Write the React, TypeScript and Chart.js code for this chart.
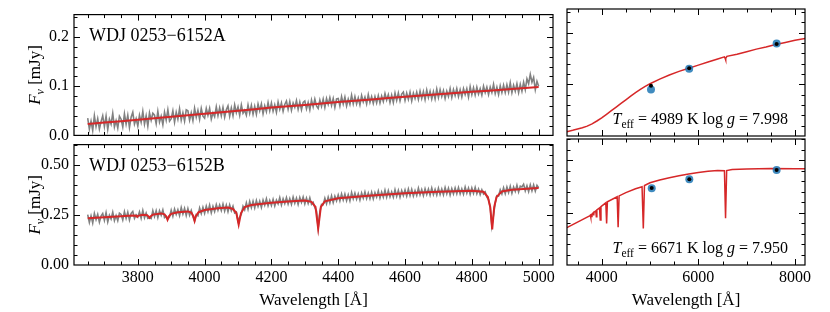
import React, { useEffect, useRef } from 'react';
import { Chart, registerables } from 'chart.js';

Chart.register(...registerables);

const FONT = '"Liberation Serif", "DejaVu Serif", serif';
const GRAY = '#808080';
const RED = '#d62728';
const BLUE = 'rgba(31,119,180,0.85)';

// ---- observed spectra: sampling grid (Å) and fluxes (mJy) ----
const SPEC_START = 3650;
const SPEC_STEP = 5;

const SPEC_A_FLUX = [
  0.035, 0.013, 0.029, 0.010, 0.040, 0.018, 0.034, 0.013, 0.028, 0.040,
  0.018, 0.039, 0.012, 0.033, 0.023, 0.045, 0.017, 0.030, 0.015, 0.039,
  0.033, 0.017, 0.044, 0.023, 0.041, 0.016, 0.037, 0.047, 0.023, 0.034,
  0.019, 0.041, 0.027, 0.049, 0.023, 0.040, 0.019, 0.046, 0.031, 0.045,
  0.041, 0.024, 0.049, 0.027, 0.039, 0.022, 0.047, 0.031, 0.052, 0.029,
  0.034, 0.050, 0.027, 0.047, 0.033, 0.054, 0.031, 0.046, 0.029, 0.052,
  0.050, 0.031, 0.046, 0.030, 0.055, 0.037, 0.051, 0.033, 0.055, 0.039,
  0.035, 0.055, 0.041, 0.055, 0.033, 0.046, 0.038, 0.058, 0.040, 0.056,
  0.040, 0.057, 0.037, 0.052, 0.060, 0.039, 0.056, 0.040, 0.062, 0.046,
  0.058, 0.041, 0.062, 0.045, 0.051, 0.041, 0.062, 0.045, 0.061, 0.043,
  0.059, 0.043, 0.064, 0.050, 0.064, 0.044, 0.060, 0.048, 0.067, 0.050,
  0.066, 0.049, 0.062, 0.047, 0.068, 0.053, 0.066, 0.049, 0.063, 0.070,
  0.053, 0.069, 0.051, 0.066, 0.057, 0.071, 0.053, 0.068, 0.052, 0.067,
  0.070, 0.054, 0.067, 0.052, 0.072, 0.058, 0.074, 0.060, 0.055, 0.072,
  0.059, 0.074, 0.057, 0.075, 0.063, 0.077, 0.061, 0.075, 0.057, 0.074,
  0.075, 0.060, 0.079, 0.064, 0.078, 0.060, 0.074, 0.063, 0.082, 0.064,
  0.079, 0.064, 0.076, 0.062, 0.081, 0.068, 0.078, 0.064, 0.083, 0.067,
  0.079, 0.065, 0.079, 0.066, 0.081, 0.066, 0.080, 0.069, 0.085, 0.072,
  0.083, 0.067, 0.082, 0.067, 0.086, 0.071, 0.086, 0.070, 0.084, 0.088,
  0.071, 0.086, 0.073, 0.088, 0.070, 0.086, 0.075, 0.088, 0.073, 0.090,
  0.075, 0.089, 0.073, 0.092, 0.077, 0.090, 0.074, 0.089, 0.074, 0.094,
  0.077, 0.093, 0.079, 0.091, 0.075, 0.090, 0.079, 0.095, 0.077, 0.093,
  0.081, 0.095, 0.079, 0.093, 0.078, 0.095, 0.083, 0.095, 0.078, 0.099,
  0.083, 0.097, 0.082, 0.098, 0.084, 0.095, 0.082, 0.100, 0.087, 0.098,
  0.083, 0.098, 0.087, 0.104, 0.085, 0.098, 0.083, 0.101, 0.087, 0.102,
  0.087, 0.103, 0.088, 0.107, 0.087, 0.102, 0.090, 0.105, 0.087, 0.104,
  0.090, 0.108, 0.093, 0.115, 0.105, 0.124, 0.108, 0.118, 0.093, 0.110,
  0.100,
];

const SPEC_B_FLUX = [
  0.252, 0.213, 0.246, 0.210, 0.258, 0.227, 0.253, 0.214, 0.245, 0.258,
  0.223, 0.262, 0.215, 0.249, 0.230, 0.264, 0.222, 0.247, 0.221, 0.259,
  0.253, 0.225, 0.267, 0.233, 0.264, 0.225, 0.258, 0.268, 0.233, 0.251,
  0.240, 0.266, 0.234, 0.273, 0.236, 0.260, 0.233, 0.236, 0.232, 0.272,
  0.242, 0.272, 0.237, 0.271, 0.249, 0.276, 0.237, 0.243, 0.230, 0.240,
  0.274, 0.244, 0.280, 0.253, 0.277, 0.247, 0.287, 0.255, 0.283, 0.247,
  0.282, 0.249, 0.273, 0.243, 0.220, 0.252, 0.246, 0.285, 0.257, 0.289,
  0.259, 0.294, 0.266, 0.300, 0.261, 0.293, 0.267, 0.302, 0.274, 0.300,
  0.272, 0.305, 0.270, 0.300, 0.267, 0.301, 0.272, 0.294, 0.260, 0.265,
  0.220, 0.240, 0.254, 0.294, 0.276, 0.311, 0.279, 0.318, 0.287, 0.319,
  0.286, 0.323, 0.293, 0.319, 0.288, 0.325, 0.299, 0.331, 0.296, 0.323,
  0.298, 0.328, 0.295, 0.325, 0.306, 0.337, 0.300, 0.331, 0.307, 0.337,
  0.305, 0.332, 0.303, 0.340, 0.309, 0.335, 0.303, 0.338, 0.313, 0.340,
  0.306, 0.335, 0.308, 0.336, 0.303, 0.313, 0.288, 0.270, 0.185, 0.265,
  0.303, 0.302, 0.334, 0.306, 0.340, 0.311, 0.346, 0.312, 0.344, 0.321,
  0.350, 0.321, 0.355, 0.325, 0.355, 0.322, 0.351, 0.321, 0.362, 0.331,
  0.359, 0.329, 0.356, 0.325, 0.360, 0.334, 0.365, 0.332, 0.360, 0.331,
  0.364, 0.331, 0.362, 0.339, 0.370, 0.335, 0.365, 0.339, 0.374, 0.339,
  0.372, 0.340, 0.366, 0.339, 0.376, 0.343, 0.373, 0.339, 0.372, 0.347,
  0.375, 0.345, 0.380, 0.347, 0.378, 0.345, 0.372, 0.348, 0.384, 0.351,
  0.377, 0.347, 0.381, 0.353, 0.380, 0.350, 0.385, 0.352, 0.378, 0.350,
  0.384, 0.352, 0.380, 0.351, 0.387, 0.356, 0.384, 0.350, 0.382, 0.355,
  0.385, 0.356, 0.387, 0.355, 0.381, 0.354, 0.390, 0.359, 0.385, 0.353,
  0.385, 0.358, 0.388, 0.356, 0.380, 0.352, 0.376, 0.355, 0.365, 0.339,
  0.327, 0.290, 0.195, 0.250, 0.311, 0.347, 0.345, 0.376, 0.355, 0.386,
  0.357, 0.390, 0.362, 0.394, 0.359, 0.390, 0.368, 0.399, 0.365, 0.394,
  0.390, 0.404, 0.371, 0.396, 0.367, 0.401, 0.371, 0.400, 0.370, 0.398,
  0.386,
];

// ---- model spectra in the spectroscopic range ----
const MODEL_A_WAVE = [3650, 3700, 3750, 3800, 3850, 3900, 3950, 4000, 4050, 4100, 4150, 4200, 4250, 4300, 4350, 4400, 4450, 4500, 4550, 4600, 4650, 4700, 4750, 4800, 4850, 4900, 4950, 5000];
const MODEL_A_FLUX = [0.023, 0.026, 0.029, 0.032, 0.035, 0.038, 0.041, 0.044, 0.047, 0.050, 0.053, 0.0565, 0.0595, 0.062, 0.065, 0.068, 0.0705, 0.073, 0.076, 0.0785, 0.081, 0.0835, 0.086, 0.0885, 0.091, 0.0935, 0.096, 0.0985];

const MODEL_B_WAVE = [3650, 3700, 3750, 3785, 3795, 3798, 3801, 3815, 3828, 3832, 3835, 3838, 3845, 3870, 3880, 3885, 3889, 3893, 3900, 3920, 3950, 3960, 3966, 3970, 3974, 3982, 4000, 4040, 4070, 4085, 4095, 4102, 4109, 4120, 4140, 4200, 4260, 4300, 4320, 4332, 4340, 4348, 4360, 4400, 4500, 4600, 4700, 4800, 4835, 4848, 4855, 4861, 4867, 4874, 4890, 4920, 5000];
const MODEL_B_FLUX = [0.234, 0.239, 0.244, 0.248, 0.246, 0.241, 0.246, 0.251, 0.249, 0.243, 0.236, 0.243, 0.252, 0.258, 0.253, 0.243, 0.226, 0.243, 0.256, 0.264, 0.268, 0.262, 0.245, 0.220, 0.245, 0.264, 0.275, 0.284, 0.287, 0.280, 0.260, 0.202, 0.260, 0.290, 0.300, 0.311, 0.319, 0.322, 0.316, 0.290, 0.182, 0.290, 0.318, 0.334, 0.348, 0.359, 0.366, 0.371, 0.366, 0.340, 0.290, 0.178, 0.290, 0.340, 0.368, 0.376, 0.385];

// ---- model SEDs (broad range) ----
const SED_A_WAVE = [3200, 3300, 3400, 3500, 3600, 3700, 3800, 3900, 4000, 4100, 4200, 4300, 4400, 4500, 4600, 4700, 4800, 4900, 5000, 5200, 5400, 5600, 5800, 6000, 6200, 6400, 6540, 6556, 6563, 6570, 6590, 6800, 7000, 7200, 7400, 7600, 7800, 8000, 8300];
const SED_A_FLUX = [0.0068, 0.0088, 0.011, 0.0135, 0.0158, 0.019, 0.0235, 0.029, 0.035, 0.042, 0.049, 0.056, 0.063, 0.070, 0.077, 0.084, 0.090, 0.096, 0.101, 0.110, 0.118, 0.125, 0.131, 0.137, 0.143, 0.149, 0.153, 0.150, 0.147, 0.150, 0.154, 0.158, 0.163, 0.168, 0.172, 0.177, 0.181, 0.185, 0.190];

const SED_B_WAVE = [3200, 3300, 3400, 3500, 3600, 3700, 3750, 3765, 3771, 3777, 3792, 3798, 3804, 3828, 3835, 3842, 3878, 3889, 3900, 3955, 3970, 3985, 4085, 4102, 4118, 4320, 4340, 4360, 4500, 4700, 4835, 4861, 4885, 5000, 5200, 5400, 5600, 5800, 6000, 6200, 6400, 6540, 6563, 6586, 6700, 7000, 7500, 8000, 8300];
const SED_B_FLUX = [0.170, 0.181, 0.193, 0.205, 0.217, 0.229, 0.235, 0.238, 0.228, 0.239, 0.242, 0.229, 0.244, 0.250, 0.237, 0.252, 0.258, 0.231, 0.263, 0.273, 0.215, 0.279, 0.297, 0.199, 0.302, 0.326, 0.180, 0.330, 0.346, 0.364, 0.374, 0.175, 0.380, 0.393, 0.406, 0.417, 0.426, 0.435, 0.442, 0.448, 0.452, 0.450, 0.223, 0.451, 0.456, 0.459, 0.461, 0.460, 0.459];

// ---- photometry ----
const PHOT_A_WAVE = [5020, 5810, 7620];
const PHOT_A_OBS = [0.090, 0.130, 0.179];
const PHOT_A_SYN = [0.097, 0.131, 0.178];
const PHOT_B_WAVE = [5035, 5813, 7620];
const PHOT_B_OBS = [0.367, 0.410, 0.454];
const PHOT_B_SYN = [0.368, 0.410, 0.454];

// ---- labels / ticks ----
const NAME_A = 'WDJ 0253\u22126152A';
const NAME_B = 'WDJ 0253\u22126152B';
const TEFF_A = '4989';
const LOGG_A = '7.998';
const TEFF_B = '6671';
const LOGG_B = '7.950';
const X_TITLE = 'Wavelength [\u00c5]';

const Y_TICKS_A = [0, 0.1, 0.2];
const Y_LABELS_A = ['0.0', '0.1', '0.2'];
const Y_TICKS_B = [0, 0.25, 0.5];
const Y_LABELS_B = ['0.00', '0.25', '0.50'];
const X_TICKS_SPEC = [3800, 4000, 4200, 4400, 4600, 4800, 5000];
const X_TICKS_SED = [4000, 6000, 8000];

const pts = (xs: number[], ys: number[]) => xs.map((x, i) => ({ x, y: ys[i] }));
const gridPts = (ys: number[]) => ys.map((y, i) => ({ x: SPEC_START + i * SPEC_STEP, y }));

type Piece = { t: string; font: string; dy?: number };

function drawPieces(ctx: CanvasRenderingContext2D, pieces: Piece[], x: number, y: number, align: 'left' | 'right' | 'center') {
  let total = 0;
  const widths = pieces.map((p) => {
    ctx.font = p.font;
    const w = ctx.measureText(p.t).width;
    total += w;
    return w;
  });
  let cx = align === 'left' ? x : align === 'right' ? x - total : x - total / 2;
  ctx.textAlign = 'left';
  ctx.textBaseline = 'alphabetic';
  pieces.forEach((p, i) => {
    ctx.font = p.font;
    ctx.fillText(p.t, cx, y + (p.dy || 0));
    cx += widths[i];
  });
}

const framePlugin = {
  id: 'frameTicks',
  afterDraw(chart: any, _args: any, o: any) {
    const { ctx, chartArea: a, scales } = chart;
    const xs = scales.x;
    const ys = scales.y;
    ctx.save();
    ctx.strokeStyle = '#000';
    ctx.fillStyle = '#000';
    ctx.lineWidth = 1;
    ctx.beginPath();
    const isMajor = (v: number, majors: number[]) => majors.some((m) => Math.abs(m - v) < 1e-9);
    const drawX = (v: number, len: number) => {
      const p = Math.round(xs.getPixelForValue(v)) + 0.5;
      ctx.moveTo(p, a.bottom);
      ctx.lineTo(p, a.bottom - len);
      ctx.moveTo(p, a.top);
      ctx.lineTo(p, a.top + len);
    };
    const drawY = (v: number, len: number) => {
      const p = Math.round(ys.getPixelForValue(v)) + 0.5;
      ctx.moveTo(a.left, p);
      ctx.lineTo(a.left + len, p);
      ctx.moveTo(a.right, p);
      ctx.lineTo(a.right - len, p);
    };
    for (let k = Math.ceil(xs.min / o.xMinor - 1e-9); k * o.xMinor <= xs.max + 1e-9; k++) {
      const v = k * o.xMinor;
      drawX(v, isMajor(v, o.xMajor) ? 6 : 3.5);
    }
    for (let k = Math.ceil(ys.min / o.yMinor - 1e-9); k * o.yMinor <= ys.max + 1e-9; k++) {
      const v = k * o.yMinor;
      if (v <= ys.min + 1e-9) continue;
      drawY(v, isMajor(v, o.yMajor) ? 6 : 3.5);
    }
    ctx.stroke();
    ctx.lineWidth = 1.2;
    ctx.strokeRect(a.left, a.top, a.right - a.left, a.bottom - a.top);

    if (o.name) {
      ctx.font = `18px ${FONT}`;
      ctx.textAlign = 'left';
      ctx.textBaseline = 'alphabetic';
      ctx.fillText(o.name, a.left + 15, a.top + 26);
    }
    if (o.teff) {
      drawPieces(
        ctx,
        [
          { t: 'T', font: `italic 16px ${FONT}` },
          { t: 'eff', font: `11.5px ${FONT}`, dy: 3.5 },
          { t: ` = ${o.teff} K log `, font: `16px ${FONT}` },
          { t: 'g', font: `italic 16px ${FONT}` },
          { t: ` = ${o.logg}`, font: `16px ${FONT}` },
        ],
        a.right - 17,
        a.bottom - 12,
        'right'
      );
    }
    if (o.yTitle) {
      ctx.translate(35, (a.top + a.bottom) / 2);
      ctx.rotate(-Math.PI / 2);
      drawPieces(
        ctx,
        [
          { t: 'F', font: `italic 17px ${FONT}` },
          { t: '\u03bd', font: `italic 12px ${FONT}`, dy: 3.5 },
          { t: ' [mJy]', font: `17px ${FONT}` },
        ],
        0,
        5,
        'center'
      );
    }
    ctx.restore();
  },
};

type PanelSpec = {
  left: number;
  top: number;
  width: number;
  height: number;
  padding: { top: number; right: number; bottom: number; left: number };
  datasets: any[];
  xMin: number;
  xMax: number;
  yMin: number;
  yMax: number;
  xTicks: number[];
  xMinor: number;
  yTicks: number[];
  yLabels: string[];
  yMinor: number;
  showX: boolean;
  showY: boolean;
  name?: string;
  teff?: string;
  logg?: string;
};

function makeConfig(p: PanelSpec): any {
  return {
    type: 'line',
    data: { datasets: p.datasets },
    options: {
      responsive: false,
      devicePixelRatio: 1,
      animation: false,
      events: [],
      layout: { padding: p.padding },
      plugins: {
        legend: { display: false },
        tooltip: { enabled: false },
        frameTicks: {
          xMinor: p.xMinor,
          xMajor: p.xTicks,
          yMinor: p.yMinor,
          yMajor: p.yTicks,
          name: p.name,
          teff: p.teff,
          logg: p.logg,
          yTitle: p.showY,
        },
      },
      scales: {
        x: {
          type: 'linear',
          min: p.xMin,
          max: p.xMax,
          display: p.showX,
          grid: { display: false, drawTicks: false },
          border: { display: false },
          afterBuildTicks: (s: any) => {
            s.ticks = p.xTicks.map((v) => ({ value: v }));
          },
          afterFit: (s: any) => {
            s.height = p.showX ? 47 : 0;
          },
          ticks: {
            autoSkip: false,
            maxRotation: 0,
            padding: 3,
            color: '#000',
            font: { family: FONT, size: 16 },
            callback: (v: any) => String(v),
          },
          title: {
            display: true,
            text: X_TITLE,
            color: '#000',
            font: { family: FONT, size: 17 },
            padding: { top: 0, bottom: 1 },
          },
        },
        y: {
          type: 'linear',
          min: p.yMin,
          max: p.yMax,
          display: p.showY,
          grid: { display: false, drawTicks: false },
          border: { display: false },
          afterBuildTicks: (s: any) => {
            s.ticks = p.yTicks.map((v) => ({ value: v }));
          },
          afterFit: (s: any) => {
            s.width = p.showY ? 74 : 0;
          },
          ticks: {
            autoSkip: false,
            padding: 5,
            color: '#000',
            font: { family: FONT, size: 16 },
            callback: (v: any) => {
              const i = p.yTicks.findIndex((t) => Math.abs(t - v) < 1e-9);
              return i >= 0 ? p.yLabels[i] : '';
            },
          },
        },
      },
    },
    plugins: [framePlugin],
  };
}

function Panel({ spec }: { spec: PanelSpec }) {
  const ref = useRef<HTMLCanvasElement>(null);
  useEffect(() => {
    const chart = new Chart(ref.current as HTMLCanvasElement, makeConfig(spec));
    return () => chart.destroy();
  }, []);
  return (
    <div style={{ position: 'absolute', left: spec.left, top: spec.top, width: spec.width, height: spec.height }}>
      <canvas ref={ref} width={spec.width} height={spec.height} style={{ display: 'block', width: spec.width, height: spec.height }} />
    </div>
  );
}

const lineDs = (data: any[], color: string, width: number) => ({
  data,
  borderColor: color,
  borderWidth: width,
  pointRadius: 0,
  tension: 0,
  fill: false,
});

const photDs = (xs: number[], ys: number[], color: string, r: number) => ({
  data: pts(xs, ys),
  showLine: false,
  pointRadius: r,
  pointStyle: 'circle',
  backgroundColor: color,
  borderWidth: 0,
});

const SPEC_X = { xMin: 3609, xMax: 5043, xTicks: X_TICKS_SPEC, xMinor: 50 };
const SED_X = { xMin: 3282, xMax: 8207, xTicks: X_TICKS_SED, xMinor: 500 };
const Y_A = { yMin: 0, yMax: 0.2456, yTicks: Y_TICKS_A, yLabels: Y_LABELS_A, yMinor: 0.02 };
const Y_B = { yMin: 0, yMax: 0.602, yTicks: Y_TICKS_B, yLabels: Y_LABELS_B, yMinor: 0.05 };

const PANELS: PanelSpec[] = [
  {
    left: 0, top: 0, width: 560, height: 150,
    padding: { top: 9, right: 7, bottom: 14, left: 0 },
    datasets: [lineDs(pts(MODEL_A_WAVE, MODEL_A_FLUX), RED, 2), lineDs(gridPts(SPEC_A_FLUX), GRAY, 1.6)],
    ...SPEC_X, ...Y_A, showX: false, showY: true, name: NAME_A,
  },
  {
    left: 0, top: 130, width: 560, height: 182,
    padding: { top: 9, right: 7, bottom: 0, left: 0 },
    datasets: [lineDs(pts(MODEL_B_WAVE, MODEL_B_FLUX), RED, 2), lineDs(gridPts(SPEC_B_FLUX), GRAY, 1.6)],
    ...SPEC_X, ...Y_B, showX: true, showY: true, name: NAME_B,
  },
  {
    left: 560, top: 0, width: 270, height: 150,
    padding: { top: 9, right: 25, bottom: 14, left: 7 },
    datasets: [
      photDs(PHOT_A_WAVE, PHOT_A_SYN, '#000', 2),
      photDs(PHOT_A_WAVE, PHOT_A_OBS, BLUE, 4),
      lineDs(pts(SED_A_WAVE, SED_A_FLUX), RED, 1.5),
    ],
    ...SED_X, ...Y_A, showX: false, showY: false, teff: TEFF_A, logg: LOGG_A,
  },
  {
    left: 560, top: 130, width: 270, height: 182,
    padding: { top: 9, right: 25, bottom: 0, left: 7 },
    datasets: [
      photDs(PHOT_B_WAVE, PHOT_B_SYN, '#000', 2),
      photDs(PHOT_B_WAVE, PHOT_B_OBS, BLUE, 4),
      lineDs(pts(SED_B_WAVE, SED_B_FLUX), RED, 1.5),
    ],
    ...SED_X, ...Y_B, showX: true, showY: false, teff: TEFF_B, logg: LOGG_B,
  },
];

export default function App() {
  return (
    <div style={{ position: 'absolute', left: 0, top: 0, width: 830, height: 312, background: '#fff' }}>
      {PANELS.map((p, i) => (
        <Panel key={i} spec={p} />
      ))}
    </div>
  );
}
